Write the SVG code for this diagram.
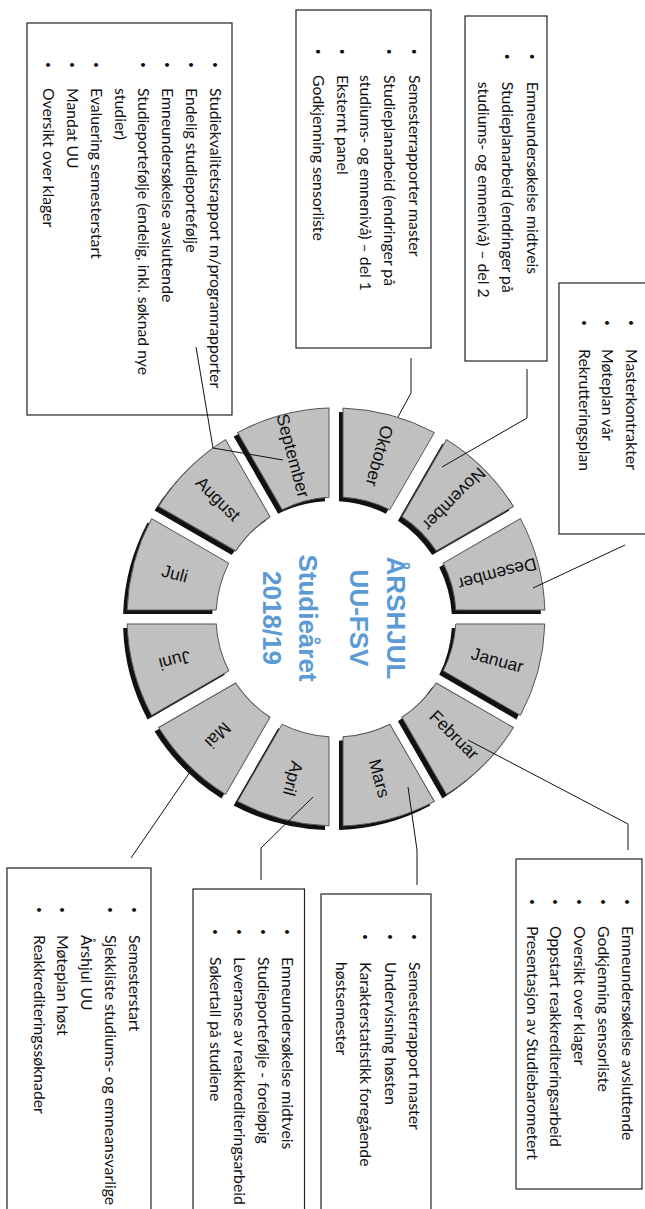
<svg xmlns="http://www.w3.org/2000/svg" xmlns:xlink="http://www.w3.org/1999/xlink" width="645" height="1209" viewBox="0 0 645 1209">
<style>
.bg{fill:#ffffff}
.box{fill:#ffffff;stroke:#222;stroke-width:1.2}
.seg{fill:#c0c0c0;stroke:#555;stroke-width:1}
.shadow{fill:#111}
.mon{font-family:"Liberation Sans",Arial,sans-serif;font-size:17.5px;fill:#111;text-anchor:middle}
.title{font-family:"Liberation Sans",Arial,sans-serif;font-size:26px;font-weight:bold;fill:#5b9bd5;text-anchor:middle}
.t{font-family:Lato,"Open Sans",sans-serif;font-size:15.8px;fill:#111}
.b{font-family:"Liberation Sans",Arial,sans-serif;font-size:14px;fill:#111;text-anchor:middle}
.con{fill:none;stroke:#111;stroke-width:1}
</style>
<defs>
<path id="seg" d="M343,408.12 A209,209 0 0,1 434.38,432.6 L389.84,509.76 A120,120 0 0,0 342.99,497.2 Z"/>
</defs>
<rect class="bg" x="0" y="0" width="645" height="1209"/>
<text x="104" y="-4" style="font-family:Lato,sans-serif;font-size:24px;font-weight:bold;fill:#4a8fd6">gg</text>

<g id="wheel">
<g id="m-oktober"><use xlink:href="#seg" class="shadow" transform="translate(-4,4) rotate(0 336 617)"/><use xlink:href="#seg" class="seg" transform="rotate(0 336 617)"/><text class="mon" dy="0.33em" transform="translate(379.2,455.7) rotate(105)">Oktober</text></g>
<g id="m-november"><use xlink:href="#seg" class="shadow" transform="translate(-4,4) rotate(30 336 617)"/><use xlink:href="#seg" class="seg" transform="rotate(30 336 617)"/><text class="mon" dy="0.33em" transform="translate(454.1,498.9) rotate(135)">November</text></g>
<g id="m-desember"><use xlink:href="#seg" class="shadow" transform="translate(-4,4) rotate(60 336 617)"/><use xlink:href="#seg" class="seg" transform="rotate(60 336 617)"/><text class="mon" dy="0.33em" transform="translate(497.3,573.8) rotate(165)">Desember</text></g>
<g id="m-januar"><use xlink:href="#seg" class="shadow" transform="translate(-4,4) rotate(90 336 617)"/><use xlink:href="#seg" class="seg" transform="rotate(90 336 617)"/><text class="mon" dy="0.33em" transform="translate(497.3,660.2) rotate(15)">Januar</text></g>
<g id="m-februar"><use xlink:href="#seg" class="shadow" transform="translate(-4,4) rotate(120 336 617)"/><use xlink:href="#seg" class="seg" transform="rotate(120 336 617)"/><text class="mon" dy="0.33em" transform="translate(454.1,735.1) rotate(45)">Februar</text></g>
<g id="m-mars"><use xlink:href="#seg" class="shadow" transform="translate(-4,4) rotate(150 336 617)"/><use xlink:href="#seg" class="seg" transform="rotate(150 336 617)"/><text class="mon" dy="0.33em" transform="translate(379.2,778.3) rotate(75)">Mars</text></g>
<g id="m-april"><use xlink:href="#seg" class="shadow" transform="translate(-4,4) rotate(180 336 617)"/><use xlink:href="#seg" class="seg" transform="rotate(180 336 617)"/><text class="mon" dy="0.33em" transform="translate(292.8,778.3) rotate(105)">April</text></g>
<g id="m-mai"><use xlink:href="#seg" class="shadow" transform="translate(-4,4) rotate(210 336 617)"/><use xlink:href="#seg" class="seg" transform="rotate(210 336 617)"/><text class="mon" dy="0.33em" transform="translate(217.9,735.1) rotate(135)">Mai</text></g>
<g id="m-juni"><use xlink:href="#seg" class="shadow" transform="translate(-4,4) rotate(240 336 617)"/><use xlink:href="#seg" class="seg" transform="rotate(240 336 617)"/><text class="mon" dy="0.33em" transform="translate(174.7,660.2) rotate(165)">Juni</text></g>
<g id="m-juli"><use xlink:href="#seg" class="shadow" transform="translate(-4,4) rotate(270 336 617)"/><use xlink:href="#seg" class="seg" transform="rotate(270 336 617)"/><text class="mon" dy="0.33em" transform="translate(174.7,573.8) rotate(15)">Juli</text></g>
<g id="m-august"><use xlink:href="#seg" class="shadow" transform="translate(-4,4) rotate(300 336 617)"/><use xlink:href="#seg" class="seg" transform="rotate(300 336 617)"/><text class="mon" dy="0.33em" transform="translate(217.9,498.9) rotate(45)">August</text></g>
<g id="m-september"><use xlink:href="#seg" class="shadow" transform="translate(-4,4) rotate(330 336 617)"/><use xlink:href="#seg" class="seg" transform="rotate(330 336 617)"/><text class="mon" dy="0.33em" transform="translate(292.8,455.7) rotate(75)">September</text></g>
</g>

<g id="title" transform="rotate(90)">
<text class="title" x="618" y="-387">ÅRSHJUL</text>
<text class="title" x="618" y="-350">UU-FSV</text>
<text class="title" x="618" y="-299">Studieåret</text>
<text class="title" x="618" y="-263">2018/19</text>
</g>

<g id="box-september">
<rect class="box" x="27" y="23" width="205" height="392"/>
<g transform="rotate(90)">
<text class="b" x="65" y="-210">•</text><text class="t" x="88" y="-210">Studiekvalitetsrapport m/programrapporter</text>
<text class="b" x="65" y="-186">•</text><text class="t" x="88" y="-186">Endelig studieportefølje</text>
<text class="b" x="65" y="-162">•</text><text class="t" x="88" y="-162">Emneundersøkelse avsluttende</text>
<text class="b" x="65" y="-138">•</text><text class="t" x="88" y="-138">Studieportefølje (endelig, inkl. søknad nye</text>
<text class="t" x="88" y="-115">studier)</text>
<text class="b" x="65" y="-90.7">•</text><text class="t" x="88" y="-90.7">Evaluering semesterstart</text>
<text class="b" x="65" y="-66.8">•</text><text class="t" x="88" y="-66.8">Mandat UU</text>
<text class="b" x="65" y="-42.5">•</text><text class="t" x="88" y="-42.5">Oversikt over klager</text>
</g>
</g>

<g id="box-oktober">
<rect class="box" x="296" y="10" width="135" height="338"/>
<g transform="rotate(90)">
<text class="b" x="51.7" y="-408.8">•</text><text class="t" x="75" y="-408.8">Semesterrapporter master</text>
<text class="b" x="51.7" y="-384">•</text><text class="t" x="75" y="-384">Studieplanarbeid (endringer på</text>
<text class="t" x="75" y="-360">studiums- og emnenivå) – del 1</text>
<text class="b" x="51.7" y="-336.7">•</text><text class="t" x="75" y="-336.7">Eksternt panel</text>
<text class="b" x="51.7" y="-312.9">•</text><text class="t" x="75" y="-312.9">Godkjenning sensorliste</text>
</g>
</g>

<g id="box-november">
<rect class="box" x="465" y="16" width="82" height="345"/>
<g transform="rotate(90)">
<text class="b" x="56.7" y="-526.9">•</text><text class="t" x="81.7" y="-526.9">Emneundersøkelse midtveis</text>
<text class="b" x="56.7" y="-502.2">•</text><text class="t" x="81.7" y="-502.2">Studieplanarbeid (endringer på</text>
<text class="t" x="81.7" y="-477.5">studiums- og emnenivå) – del 2</text>
</g>
</g>

<g id="box-desember">
<rect class="box" x="559" y="283" width="95" height="251"/>
<g transform="rotate(90)">
<text class="b" x="323" y="-626">•</text><text class="t" x="349" y="-626">Masterkontrakter</text>
<text class="b" x="323" y="-602">•</text><text class="t" x="349" y="-602">Møteplan vår</text>
<text class="b" x="323" y="-578.7">•</text><text class="t" x="349" y="-578.7">Rekrutteringsplan</text>
</g>
</g>

<g id="box-februar">
<rect class="box" x="516" y="859" width="126" height="330"/>
<g transform="rotate(90)">
<text class="b" x="902" y="-622.3">•</text><text class="t" x="926" y="-622.3">Emneundersøkelse avsluttende</text>
<text class="b" x="902" y="-598">•</text><text class="t" x="926" y="-598">Godkjenning sensorliste</text>
<text class="b" x="902" y="-574.2">•</text><text class="t" x="926" y="-574.2">Oversikt over klager</text>
<text class="b" x="902" y="-550.3">•</text><text class="t" x="926" y="-550.3">Oppstart reakkrediteringsarbeid</text>
<text class="b" x="902" y="-526.9">•</text><text class="t" x="926" y="-526.9">Presentasjon av Studiebarometert</text>
</g>
</g>

<g id="box-mars">
<rect class="box" x="321" y="894" width="110" height="330"/>
<g transform="rotate(90)">
<text class="b" x="937" y="-408.8">•</text><text class="t" x="962" y="-408.8">Semesterrapport master</text>
<text class="b" x="937" y="-384.9">•</text><text class="t" x="962" y="-384.9">Undervisning høsten</text>
<text class="b" x="937" y="-360.2">•</text><text class="t" x="962" y="-360.2">Karakterstatistikk foregående</text>
<text class="t" x="962" y="-335.5">høstsemester</text>
</g>
</g>

<g id="box-april">
<rect class="box" x="193" y="889" width="111.5" height="330"/>
<g transform="rotate(90)">
<text class="b" x="932" y="-282">•</text><text class="t" x="957" y="-282">Emneundersøkelse midtveis</text>
<text class="b" x="932" y="-258">•</text><text class="t" x="957" y="-258">Studieportefølje - foreløpig</text>
<text class="b" x="932" y="-233.9">•</text><text class="t" x="957" y="-233.9">Leveranse av reakkrediteringsarbeid</text>
<text class="b" x="932" y="-210">•</text><text class="t" x="957" y="-210">Søkertall på studiene</text>
</g>
</g>

<g id="box-mai">
<rect class="box" x="7" y="868" width="144" height="350"/>
<g transform="rotate(90)">
<text class="b" x="910" y="-128.5">•</text><text class="t" x="935" y="-128.5">Semesterstart</text>
<text class="b" x="910" y="-105">•</text><text class="t" x="935" y="-105">Sjekkliste studiums- og emneansvarlige</text>
<text class="t" x="935" y="-81">Årshjul UU</text>
<text class="b" x="910" y="-57">•</text><text class="t" x="935" y="-57">Møteplan høst</text>
<text class="b" x="910" y="-33.9">•</text><text class="t" x="935" y="-33.9">Reakkrediteringssøknader</text>
</g>
</g>

<g id="connectors">
<polyline class="con" points="196,347 213,448 283,460"/>
<polyline class="con" points="411,358 411,393 398,417"/>
<polyline class="con" points="527,369 527,418 442,467"/>
<polyline class="con" points="625,545 533,588"/>
<polyline class="con" points="468,740 628,824 628,850"/>
<polyline class="con" points="408,787 417,850 417,885"/>
<polyline class="con" points="313,797 261,848 261,880"/>
<polyline class="con" points="190,772 131,858"/>
</g>
</svg>
